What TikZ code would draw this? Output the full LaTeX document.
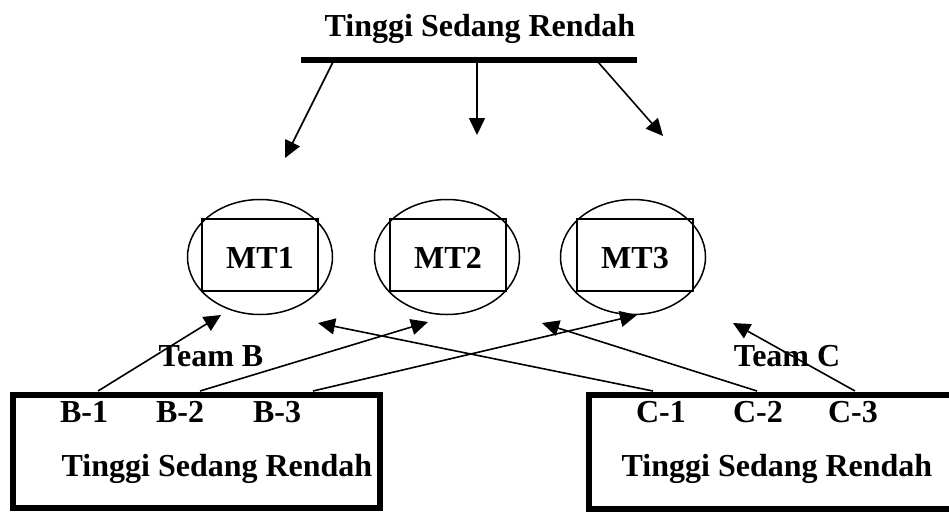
\documentclass[tikz,border=0pt]{standalone}
\usepackage{fontspec}
\setmainfont{Liberation Serif}
\usetikzlibrary{arrows.meta,shapes.geometric}
\begin{document}
\begin{tikzpicture}[x=1pt,y=-1pt,
  lbl/.style={font=\fontsize{32}{38}\selectfont\bfseries, inner sep=0pt, anchor=base},
  oval/.style={draw, ellipse, line width=1.5pt, minimum width=145pt, minimum height=115pt, inner sep=0pt},
  mtbox/.style={draw, rectangle, line width=1.5pt, minimum width=116pt, minimum height=72pt, inner sep=0pt},
  teambox/.style={draw, line width=6pt},
  link/.style={line width=1.6pt, -{Triangle[length=17pt,width=16pt]}}]
  \useasboundingbox (0,0) rectangle (949,512);
  \clip (0,0) rectangle (949,512);

  % level bar at the top
  \node[lbl] (title) at (480,36) {Tinggi Sedang Rendah};
  \coordinate (barL) at (301,60);
  \coordinate (barR) at (637,60);
  \draw[line width=6pt] (barL) -- (barR);
  \coordinate (s1) at (333,62);
  \coordinate (s2) at (477,62);
  \coordinate (s3) at (598,62);
  \coordinate (t1) at (285,158);
  \coordinate (t2) at (477,135);
  \coordinate (t3) at (663,136);
  \draw[link] (s1) -- (t1);
  \draw[link] (s2) -- (t2);
  \draw[link] (s3) -- (t3);

  % the three teams of MT
  \node[oval] (e1) at (260,257) {};
  \node[oval] (e2) at (447,257) {};
  \node[oval] (e3) at (633,257) {};
  \node[mtbox] (r1) at (260,255) {};
  \node[mtbox] (r2) at (448,255) {};
  \node[mtbox] (r3) at (635,255) {};
  \node[lbl] (m1) at (260,268) {MT1};
  \node[lbl] (m2) at (448,268) {MT2};
  \node[lbl] (m3) at (635,268) {MT3};

  % team boxes
  \draw[teambox] (13,394.5) rectangle (380,508);
  \draw[teambox] (589,394.5) rectangle (960,509);
  \node[lbl] (b1) at (84,422) {B-1};
  \node[lbl] (b2) at (180,422) {B-2};
  \node[lbl] (b3) at (277,422) {B-3};
  \node[lbl] (bt) at (217,476) {Tinggi Sedang Rendah};
  \node[lbl] (c1) at (661,422) {C-1};
  \node[lbl] (c2) at (758,422) {C-2};
  \node[lbl] (c3) at (853,422) {C-3};
  \node[lbl] (ct) at (777,476) {Tinggi Sedang Rendah};

  % links from the team members up to the MT groups
  \coordinate (pb1) at (98,391);
  \coordinate (pb2) at (200,391);
  \coordinate (pb3) at (313,391);
  \coordinate (pc1) at (653,391);
  \coordinate (pc2) at (757,391);
  \coordinate (pc3) at (855,391);
  \coordinate (qb1) at (221,315);
  \coordinate (qb2) at (428,322);
  \coordinate (qb3) at (637,315);
  \coordinate (qc1) at (318,323);
  \coordinate (qc2) at (542,323);
  \coordinate (qc3) at (733,323);
  \draw[link] (pb1) -- (qb1);
  \draw[link] (pb2) -- (qb2);
  \draw[link] (pb3) -- (qb3);
  \draw[link] (pc1) -- (qc1);
  \draw[link] (pc2) -- (qc2);
  \draw[link] (pc3) -- (qc3);

  \node[lbl] (tb) at (211,366) {Team B};
  \node[lbl] (tc) at (787,366) {Team C};
\end{tikzpicture}
\end{document}
